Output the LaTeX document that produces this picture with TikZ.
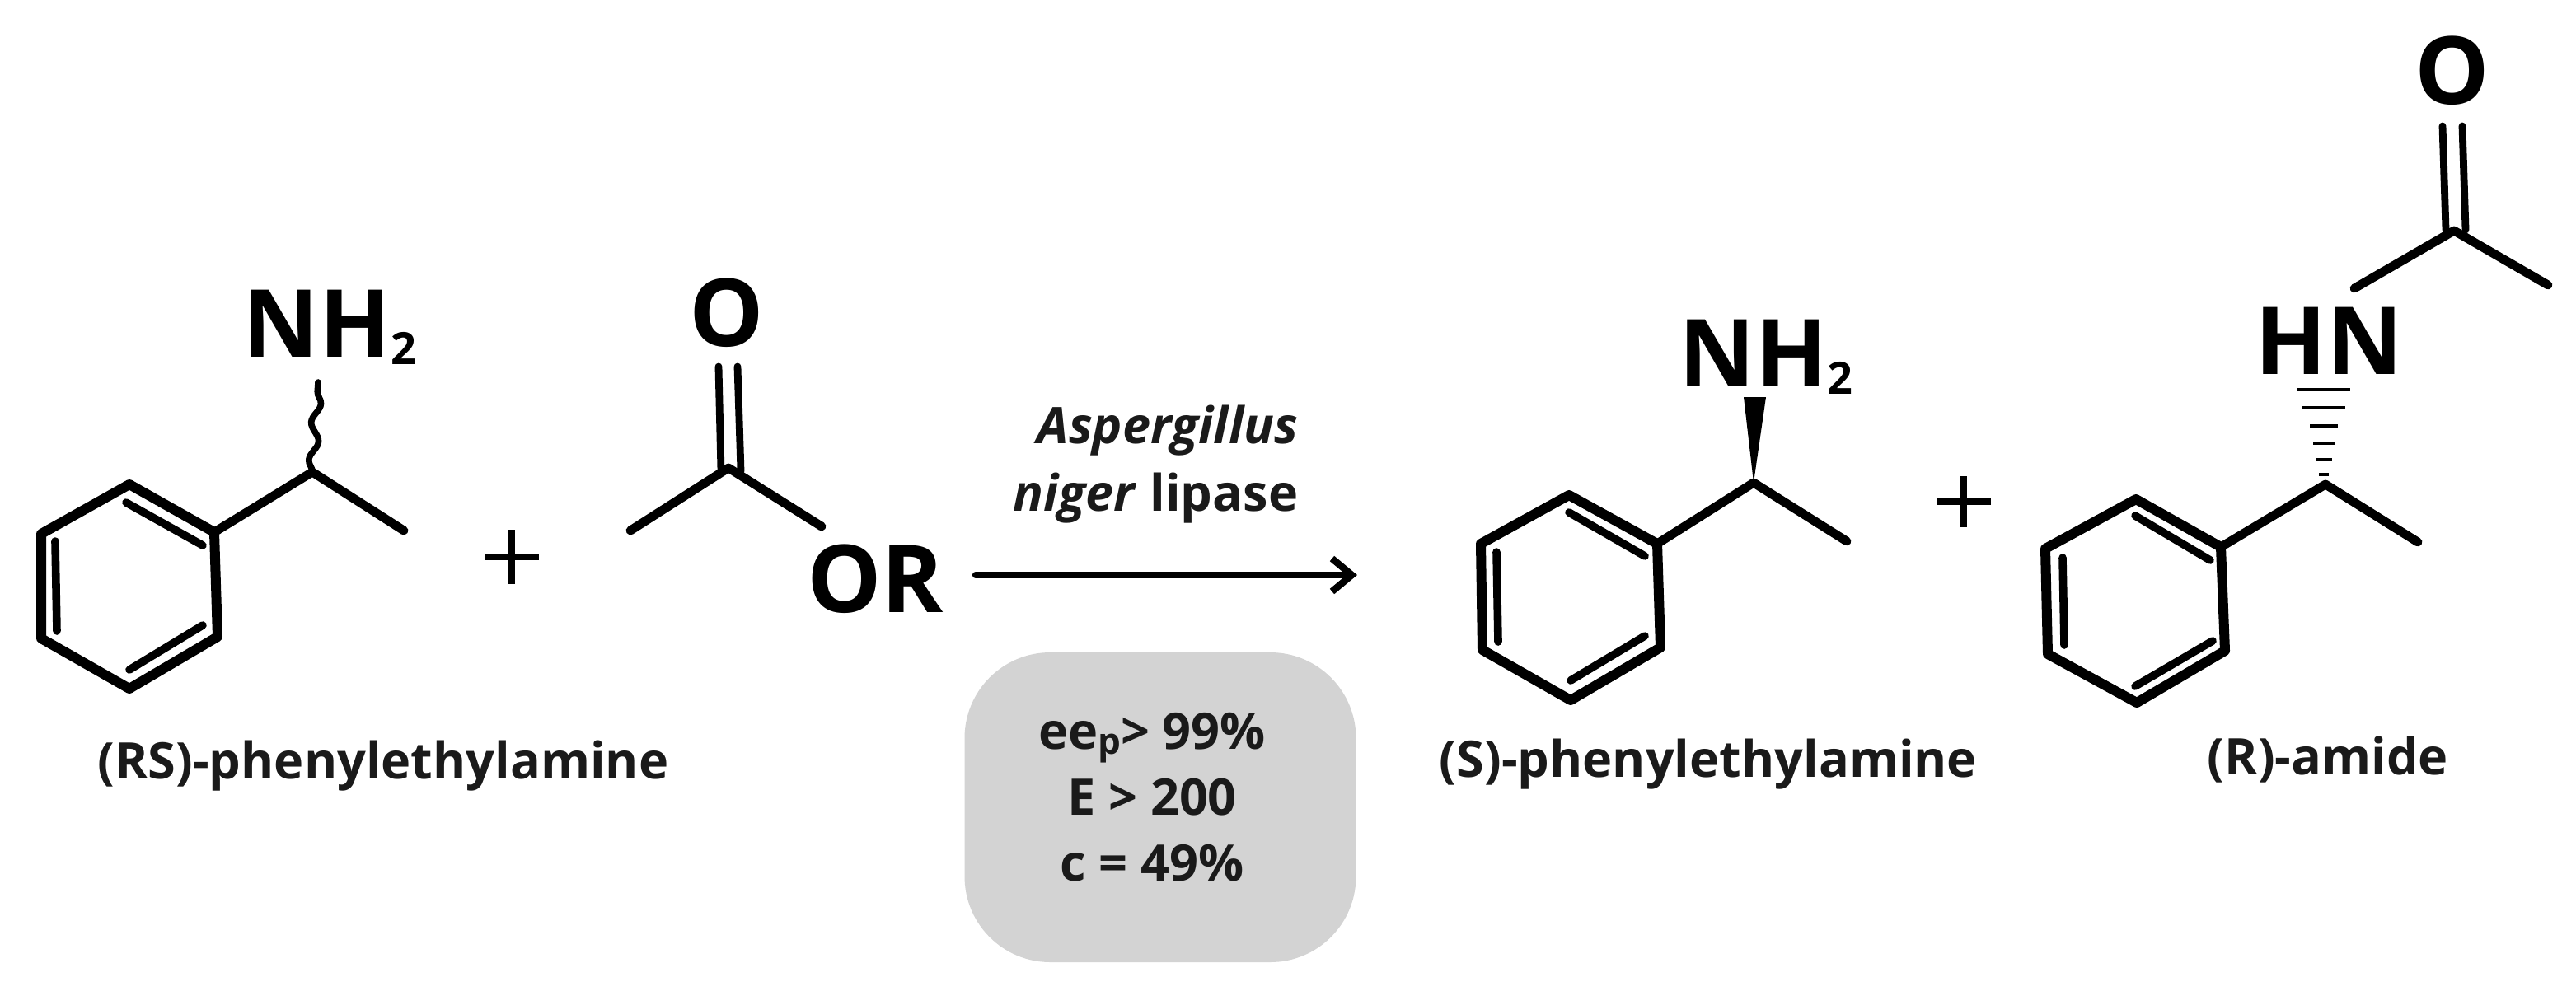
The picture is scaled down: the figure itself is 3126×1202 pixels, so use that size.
\documentclass[tikz,border=0pt]{standalone}
\usepackage{fontspec}
\setmainfont{Open Sans}
\usetikzlibrary{arrows.meta,decorations.pathmorphing}

\definecolor{boxgray}{HTML}{D3D3D3}
\definecolor{inkgray}{HTML}{1A1A1A}

\newcommand{\subtwo}{{\fontsize{13.5}{13.5}\selectfont\raisebox{-2.3pt}{2}}}

\begin{document}
\begin{tikzpicture}[x=0.25pt,y=-0.25pt,line cap=round,line join=round,
                    ringbond/.style={draw,line width=3pt},
                    innerbond/.style={draw,line width=2.4pt},
                    bond/.style={draw,line width=2.7pt},
                    thinbond/.style={draw,line width=2.2pt},
                    plus/.style={draw,line width=1.8pt,line cap=butt},
                    atom/.style={inner sep=0pt,font=\fontsize{28.5}{28.5}\selectfont\bfseries},
                    caption/.style={inner sep=0pt,text=inkgray,font=\fontsize{15.3}{20}\selectfont\bfseries}]

  \useasboundingbox (0,0) rectangle (3126,1202);

  % left amine
  \coordinate (a1) at (157,588);
  \coordinate (a2) at (260,646);
  \coordinate (a3) at (264,773);
  \coordinate (a4) at (157,836);
  \coordinate (a5) at (50,775);
  \coordinate (a6) at (50,648);
  \coordinate (a7)  at (153,610);
  \coordinate (a8)  at (246,662);
  \coordinate (a9)  at (67,657);
  \coordinate (a10) at (69,766);
  \coordinate (a11) at (157,813);
  \coordinate (a12) at (246,759);
  \coordinate (aC)  at (379,573);
  \coordinate (aMe) at (490,644);
  \coordinate (aN)  at (386,464);
  \node[atom,anchor=base west] (NHleft) at (294,433) {NH\subtwo};

  \path[ringbond] (a1) -- (a2) -- (a3) -- (a4) -- (a5) -- (a6) -- cycle;
  \path[innerbond] (a7) -- (a8) (a9) -- (a10) (a11) -- (a12);
  \path[bond] (a2) -- (aC) -- (aMe);
  \draw[line width=1.9pt,decorate,decoration={snake,amplitude=1.3pt,segment length=11.5pt}]
    (aC) -- (aN);

  \node[caption,anchor=base] (labelRS) at (465,945) {(RS)-phenylethylamine};
  \path[plus] (588,676) -- (654,676) (621,643) -- (621,709);

  % acyl donor
  \coordinate (bC)  at (884,568);
  \coordinate (bMe) at (765,644);
  \coordinate (bO)  at (997,639);
  \coordinate (b1)  at (872,445);
  \coordinate (b2)  at (875,572);
  \coordinate (b3)  at (895,445);
  \coordinate (b4)  at (899,572);
  \node[atom,anchor=base] (Otop) at (882,420) {O};
  \node[atom,anchor=base] (OR)   at (1062,743) {OR};
  \path[thinbond] (b1) -- (b2) (b3) -- (b4);
  \path[bond] (bMe) -- (bC) -- (bO);

  % arrow and conditions
  \coordinate (arrowL) at (1184,698);
  \coordinate (arrowR) at (1647,698);
  \draw[line width=2.1pt,-{Straight Barb[length=6pt,width=10pt]}] (arrowL) -- (arrowR);
  \node[caption,align=right,anchor=south east,font=\fontsize{15.3}{20.5}\selectfont\bfseries] (enzyme) at (1576,636)
    {\textit{Aspergillus}\\\textit{niger} lipase};
  \node[fill=boxgray,rounded corners=26pt,minimum width=118.75pt,minimum height=94pt] (ratiobox) at (1408,980) {};
  \node[caption,align=center] (ratios) at (1398,968)
    {ee{\fontsize{11}{11}\selectfont\raisebox{-1.5pt}{p}}> 99\%\\E > 200\\c = 49\%};

  % right amine
  \coordinate (c1) at (1904,601);
  \coordinate (c2) at (2011,660);
  \coordinate (c3) at (2015,786);
  \coordinate (c4) at (1906,850);
  \coordinate (c5) at (1799,789);
  \coordinate (c6) at (1797,660);
  \coordinate (c7)  at (1904,622);
  \coordinate (c8)  at (1996,675);
  \coordinate (c9)  at (1816,670);
  \coordinate (c10) at (1818,779);
  \coordinate (c11) at (1906,826);
  \coordinate (c12) at (1996,772);
  \coordinate (cC)  at (2128,586);
  \coordinate (cMe) at (2241,657);
  \coordinate (cW1) at (2116,482);
  \coordinate (cW2) at (2143,482);
  \node[atom,anchor=base west] (NHright) at (2037,469) {NH\subtwo};

  \path[ringbond] (c1) -- (c2) -- (c3) -- (c4) -- (c5) -- (c6) -- cycle;
  \path[innerbond] (c7) -- (c8) (c9) -- (c10) (c11) -- (c12);
  \path[bond] (c2) -- (cC) -- (cMe);
  \fill[line join=miter] (cC) -- (cW1) -- (cW2) -- cycle;

  \node[caption,anchor=base] (labelS) at (2073,943) {(S)-phenylethylamine};
  \path[plus] (2350,609) -- (2416,609) (2383,578) -- (2383,640);

  % amide
  \coordinate (d1) at (2592,606);
  \coordinate (d2) at (2695,664);
  \coordinate (d3) at (2700,790);
  \coordinate (d4) at (2593,853);
  \coordinate (d5) at (2485,794);
  \coordinate (d6) at (2482,666);
  \coordinate (d7)  at (2591,626);
  \coordinate (d8)  at (2682,680);
  \coordinate (d9)  at (2503,677);
  \coordinate (d10) at (2505,783);
  \coordinate (d11) at (2591,833);
  \coordinate (d12) at (2685,778);
  \coordinate (dC)  at (2822,588);
  \coordinate (dMe) at (2934,658);
  \coordinate (eC)  at (2978,280);
  \coordinate (eN)  at (2857,350);
  \coordinate (eMe) at (3092,346);
  \coordinate (e1)  at (2964,153);
  \coordinate (e2)  at (2968,279);
  \coordinate (e3)  at (2988,153);
  \coordinate (e4)  at (2992,279);
  \node[atom,anchor=base] (HN)   at (2826,454) {HN};
  \node[atom,anchor=base] (Oend) at (2976,126) {O};

  \path[ringbond] (d1) -- (d2) -- (d3) -- (d4) -- (d5) -- (d6) -- cycle;
  \path[innerbond] (d7) -- (d8) (d9) -- (d10) (d11) -- (d12);
  \path[bond] (d2) -- (dC) -- (dMe);
  \path[bond] (eN) -- (eC) -- (eMe);
  \path[thinbond] (e1) -- (e2) (e3) -- (e4);
  \foreach \y/\w in {473/32,495/26,517/17,538/13,558/10,576/6}
    \draw[line width=0.8pt,line cap=butt] (2820-\w,\y) -- (2820+\w,\y);

  \node[caption,anchor=base] (labelR) at (2825,940) {(R)-amide};
\end{tikzpicture}
\end{document}
